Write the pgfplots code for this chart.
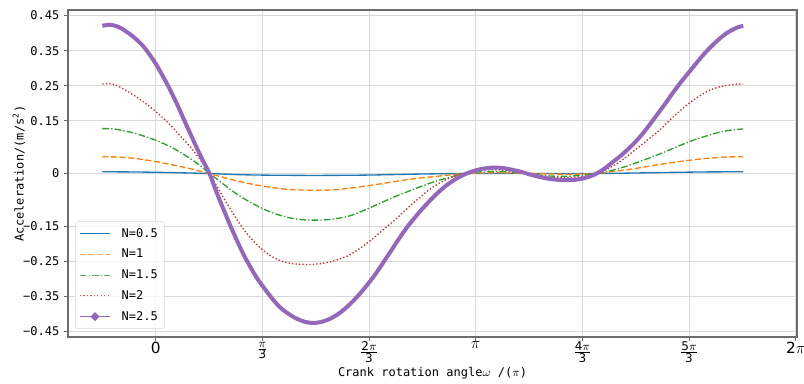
\documentclass[border=0pt]{standalone}
\usepackage{pgfplots}
\pgfplotsset{compat=1.18}
\usepackage{fontspec}
\setmainfont{DejaVu Sans Mono}
\newfontfamily\dvs{DejaVu Sans}
\definecolor{c0}{HTML}{1F77B4}
\definecolor{c1}{HTML}{FF7F0E}
\definecolor{c2}{HTML}{2CA02C}
\definecolor{c3}{HTML}{D62728}
\definecolor{c4}{HTML}{9467BD}
\newcommand{\fr}[1]{{\fontsize{9}{10}\selectfont$\textstyle\frac{\hbox{\dvs #1$\pi$}}{\hbox{\dvs 3}}$}}
\tikzset{
  s0/.style={c0, line width=1pt},
  s1/.style={c1, line width=1pt, dash pattern=on 4.5pt off 2pt},
  s2/.style={c2, line width=1pt, dash pattern=on 5pt off 1.6pt on 1pt off 1.6pt},
  s3/.style={c3, line width=1pt, dash pattern=on 1pt off 1.6pt},
}
\begin{document}
\begin{tikzpicture}
\begin{axis}[
  scale only axis, width=546.75pt, height=245.25pt,
  xmin=-0.274, xmax=2.004, ymin=-0.466, ymax=0.466,
  axis line style={draw=gray!85!black, line width=0.8pt},
  xtick={0,0.333333,0.666667,1,1.333333,1.666667,2},
  xticklabels={{\dvs 0},\fr{},\fr{2},{\fontsize{13}{14}\selectfont$\pi$},\fr{4},\fr{5},{\dvs 2}{\fontsize{13}{14}\selectfont$\pi$}},
  ytick={-0.45,-0.35,-0.25,-0.15,0,0.15,0.25,0.35,0.45},
  yticklabels={−0.45,−0.35,−0.25,−0.15,0,0.15,0.25,0.35,0.45},
  grid=major, grid style={gray!30, line width=0.6pt},
  tick align=outside, xtick pos=lower, ytick pos=left,
  major tick length=3pt, tick style={gray!85!black, line width=0.6pt},
  yticklabel style={font=\fontsize{9}{10}\selectfont},
  xticklabel style={font=\fontsize{11.5}{12}\selectfont, anchor=north, inner sep=0.5pt},
  xlabel={Crank rotation angle$\omega$ /($\pi$)},
  ylabel={Acceleration/(m/s\textsuperscript{2})},
  label style={font=\fontsize{9}{10}\selectfont},
  xlabel style={at={(axis description cs:0.5,-0.112)}, anchor=center},
  ylabel style={at={(axis description cs:-0.0672,0.5)}, anchor=center},
  legend style={at={(axis description cs:0.0096,0.0245)}, anchor=south west,
    draw=gray!30, rounded corners=2pt, fill=white, fill opacity=0.8, text opacity=1, draw opacity=1,
    font=\fontsize{9}{10}\selectfont, row sep=3.4pt, inner sep=3pt},
  legend cell align=left,
]
\addplot[s0, smooth, tension=0.5, legend image code/.code={\draw[s0, line width=0.8pt] (0cm,0cm) -- (0.8cm,0cm); \path (0.98cm,0cm);}] coordinates {
(-0.1667,0.005) (-0.08,0.0045) (0,0.0035) (0.08,0.002) (0.168,0.0) (0.25,-0.003) (0.33,-0.0045) (0.4925,-0.0055) (0.66,-0.0045) (0.8,-0.002) (0.96,0.0) (1.17,0.0) (1.378,0.0) (1.5,0.0015) (1.6,0.003) (1.72,0.0045) (1.836,0.005)};
\addlegendentry{N=0.5}
\addplot[s1, smooth, tension=0.5, legend image code/.code={\draw[s1, line width=0.8pt, opacity=0.7] (0cm,0cm) -- (0.8cm,0cm); \path (0.98cm,0cm);}] coordinates {
(-0.1667,0.048) (-0.12,0.047) (-0.075,0.044) (-0.049,0.041) (0,0.034) (0.055,0.024) (0.107,0.014) (0.168,0.0) (0.215,-0.012) (0.263,-0.023) (0.31,-0.032) (0.357,-0.039) (0.41,-0.045) (0.4925,-0.048) (0.545,-0.047) (0.597,-0.043) (0.67,-0.034) (0.72,-0.027) (0.774,-0.019) (0.826,-0.013) (0.878,-0.008) (0.93,-0.003) (0.96,0.0) (1.066,0.002) (1.17,0.0) (1.284,-0.002) (1.378,0.0) (1.43,0.006) (1.482,0.012) (1.53,0.019) (1.576,0.026) (1.628,0.033) (1.68,0.039) (1.732,0.044) (1.784,0.047) (1.836,0.048)};
\addlegendentry{N=1}
\addplot[s2, smooth, tension=0.5, legend image code/.code={\draw[s2, line width=0.8pt, opacity=0.8] (0cm,0cm) -- (0.8cm,0cm); \path (0.98cm,0cm);}] coordinates {
(-0.1667,0.128) (-0.13,0.127) (-0.101,0.122) (-0.075,0.117) (-0.049,0.110) (-0.025,0.103) (0,0.095) (0.028,0.084) (0.055,0.072) (0.081,0.058) (0.107,0.043) (0.128,0.030) (0.149,0.015) (0.168,0.0) (0.2,-0.022) (0.24,-0.050) (0.284,-0.076) (0.336,-0.101) (0.388,-0.119) (0.44,-0.130) (0.4925,-0.133) (0.545,-0.131) (0.597,-0.123) (0.63,-0.113) (0.664,-0.100) (0.7,-0.085) (0.742,-0.068) (0.784,-0.053) (0.826,-0.038) (0.878,-0.021) (0.93,-0.008) (0.96,0.0) (1.0,0.004) (1.066,0.006) (1.12,0.003) (1.17,-0.002) (1.23,-0.007) (1.284,-0.008) (1.33,-0.005) (1.378,0.0) (1.43,0.010) (1.472,0.021) (1.524,0.038) (1.576,0.056) (1.628,0.076) (1.68,0.095) (1.732,0.110) (1.763,0.118) (1.8,0.124) (1.836,0.127)};
\addlegendentry{N=1.5}
\addplot[s3, smooth, tension=0.5, legend image code/.code={\draw[s3, line width=0.8pt, opacity=0.8] (0cm,0cm) -- (0.8cm,0cm); \path (0.98cm,0cm);}] coordinates {
(-0.1667,0.255) (-0.143,0.256) (-0.12,0.250) (-0.101,0.241) (-0.075,0.227) (-0.049,0.211) (-0.025,0.195) (0,0.177) (0.028,0.154) (0.055,0.129) (0.081,0.103) (0.107,0.077) (0.128,0.053) (0.149,0.027) (0.168,0.0) (0.19,-0.034) (0.211,-0.068) (0.236,-0.105) (0.26,-0.140) (0.284,-0.170) (0.31,-0.197) (0.336,-0.219) (0.362,-0.236) (0.388,-0.248) (0.415,-0.255) (0.44,-0.258) (0.4925,-0.259) (0.545,-0.252) (0.597,-0.236) (0.634,-0.216) (0.67,-0.192) (0.711,-0.160) (0.753,-0.128) (0.79,-0.096) (0.826,-0.068) (0.852,-0.048) (0.878,-0.032) (0.904,-0.019) (0.93,-0.009) (0.96,0.0) (0.99,0.006) (1.03,0.010) (1.066,0.011) (1.1,0.008) (1.14,0.003) (1.17,-0.002) (1.2,-0.007) (1.24,-0.011) (1.284,-0.012) (1.32,-0.010) (1.35,-0.006) (1.378,0.0) (1.404,0.009) (1.43,0.022) (1.451,0.034) (1.472,0.048) (1.498,0.067) (1.524,0.086) (1.55,0.105) (1.576,0.125) (1.602,0.148) (1.628,0.170) (1.654,0.191) (1.68,0.209) (1.706,0.225) (1.732,0.238) (1.758,0.246) (1.784,0.251) (1.81,0.254) (1.836,0.255)};
\addlegendentry{N=2}
\addplot[c4, line width=3pt, smooth, tension=0.5,
  legend image code/.code={\draw[c4, line width=0.8pt] (0cm,0cm) -- (0.8cm,0cm); \fill[c4] (0.4cm,0cm) circle (1.3pt); \path (0.98cm,0cm);}] coordinates {
(-0.1667,0.421) (-0.143,0.424) (-0.12,0.419) (-0.101,0.410) (-0.08,0.397) (-0.059,0.381) (-0.04,0.364) (-0.023,0.344) (0,0.313) (0.034,0.258) (0.066,0.199) (0.097,0.136) (0.128,0.074) (0.148,0.036) (0.168,0.0) (0.19,-0.053) (0.211,-0.100) (0.232,-0.146) (0.253,-0.189) (0.274,-0.230) (0.295,-0.265) (0.315,-0.296) (0.336,-0.323) (0.362,-0.354) (0.388,-0.381) (0.415,-0.400) (0.441,-0.414) (0.467,-0.423) (0.4925,-0.426) (0.518,-0.423) (0.545,-0.414) (0.571,-0.400) (0.597,-0.381) (0.63,-0.351) (0.664,-0.314) (0.688,-0.285) (0.711,-0.254) (0.735,-0.221) (0.758,-0.189) (0.784,-0.155) (0.805,-0.131) (0.826,-0.108) (0.852,-0.082) (0.878,-0.058) (0.904,-0.037) (0.93,-0.020) (0.951,-0.009) (0.972,0.0) (0.993,0.007) (1.013,0.012) (1.04,0.016) (1.066,0.017) (1.09,0.015) (1.117,0.010) (1.145,0.004) (1.17,-0.003) (1.196,-0.009) (1.222,-0.014) (1.255,-0.018) (1.284,-0.019) (1.31,-0.018) (1.336,-0.014) (1.358,-0.008) (1.378,0.0) (1.404,0.015) (1.43,0.034) (1.451,0.049) (1.472,0.066) (1.498,0.089) (1.524,0.116) (1.55,0.147) (1.576,0.179) (1.597,0.205) (1.617,0.231) (1.64,0.259) (1.664,0.286) (1.688,0.313) (1.711,0.338) (1.737,0.363) (1.763,0.385) (1.784,0.400) (1.805,0.411) (1.82,0.417) (1.836,0.421)};
\addlegendentry{N=2.5}
\coordinate (sw) at (rel axis cs:0,0);
\end{axis}
\pgfresetboundingbox
\path (sw) ++(-51pt,-34.5pt) rectangle ++(603pt,287.25pt);
\end{tikzpicture}
\end{document}
